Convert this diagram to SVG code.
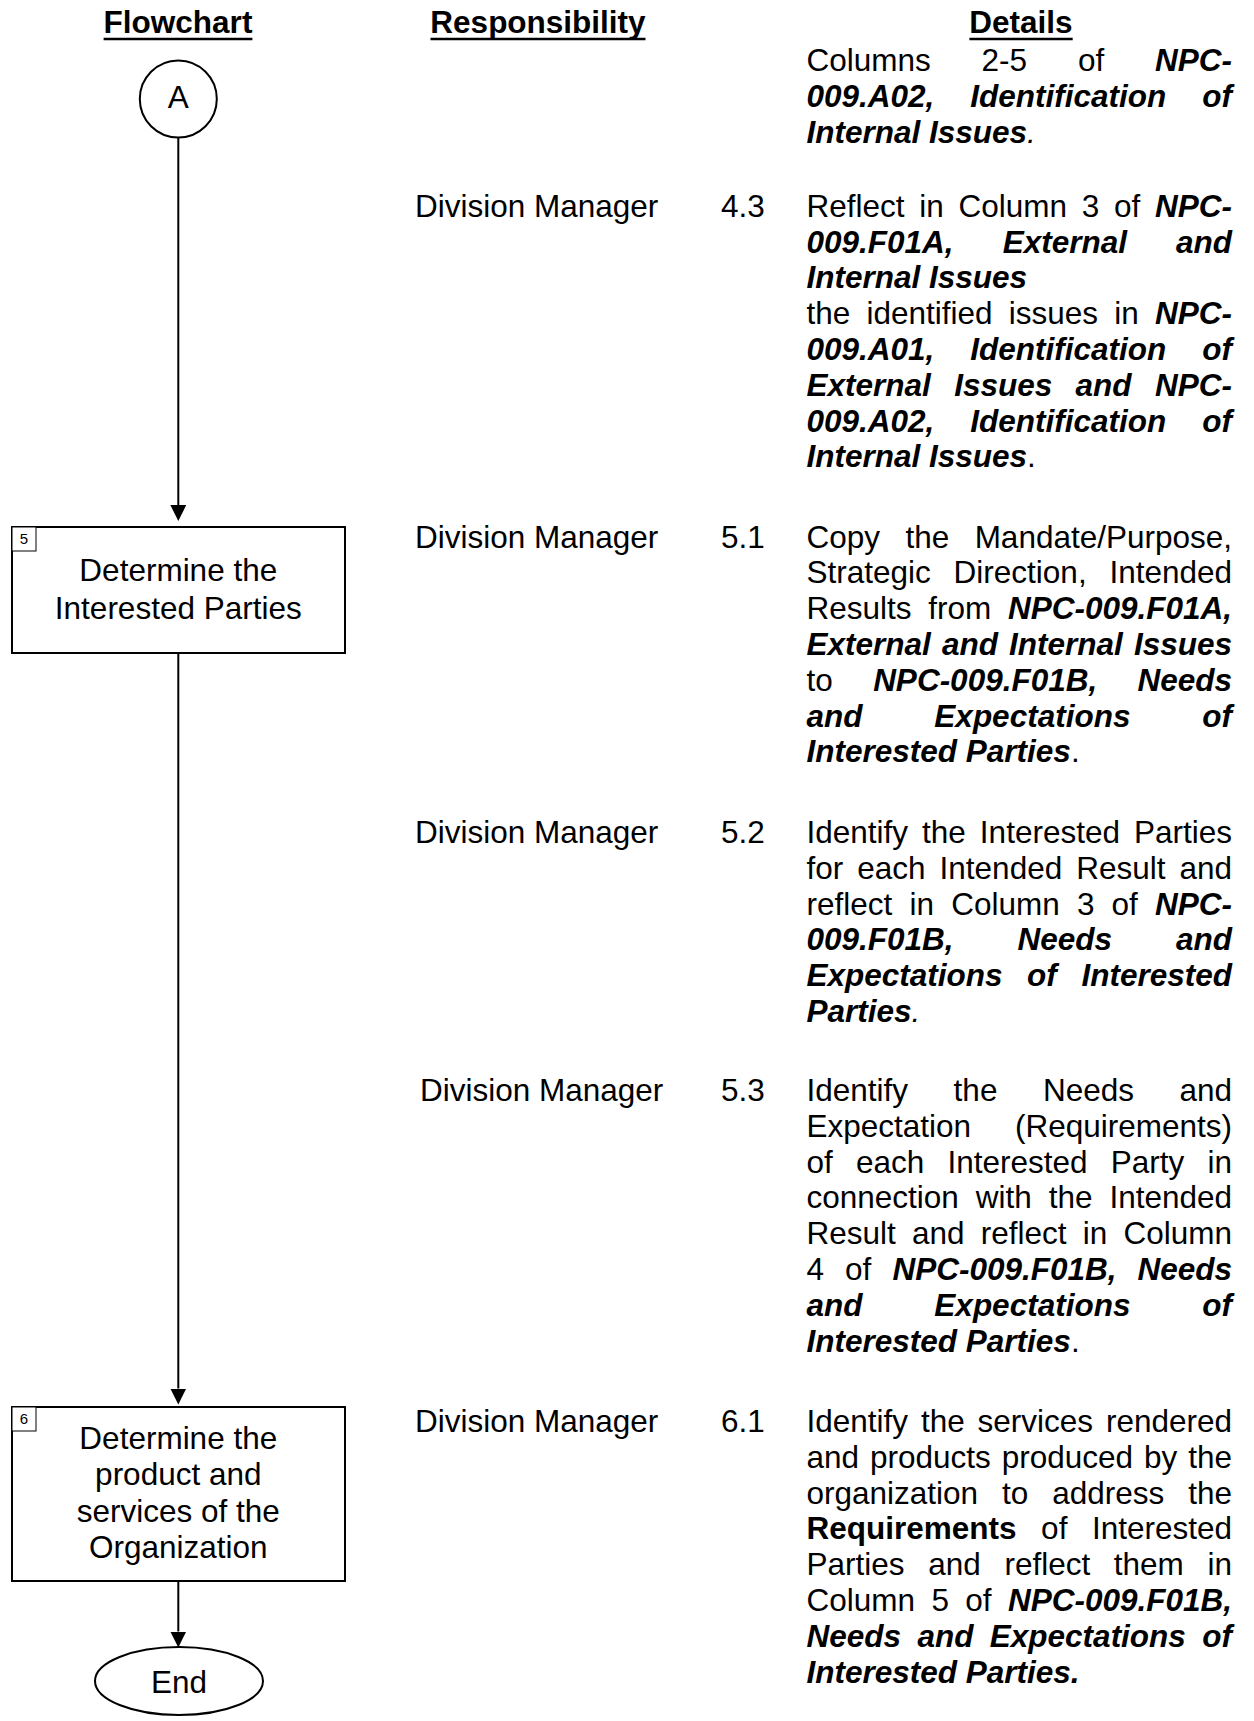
<svg xmlns="http://www.w3.org/2000/svg" width="1254" height="1721" viewBox="0 0 1254 1721">
<style>
.t{font-family:"Liberation Sans",Arial,sans-serif;font-size:31.5px;fill:#000}
.b{font-weight:bold}
.bi{font-weight:bold;font-style:italic}
.i{font-style:italic}
.c{text-anchor:middle}
.node{fill:#fff;stroke:#000;stroke-width:2}
.tag{fill:#fff;stroke:#000;stroke-width:1}
.tagt{font-family:"Liberation Sans",Arial,sans-serif;font-size:15px;fill:#000;text-anchor:middle}
.conn{stroke:#000;stroke-width:2;fill:none}
.ul{stroke:#000;stroke-width:2.5}
</style>
<defs>
<marker id="arr" viewBox="0 0 16 16" refX="0" refY="8" markerWidth="16" markerHeight="16" markerUnits="userSpaceOnUse" orient="auto">
<path d="M0,0 L16,8 L0,16 Z" fill="#000"/>
</marker>
</defs>
<rect width="1254" height="1721" fill="#fff"/>

<g id="headers">
<text class="t b c" x="178" y="33">Flowchart</text>
<line class="ul" x1="103.6" y1="39" x2="252.4" y2="39"/>
<text class="t b c" x="538" y="33">Responsibility</text>
<line class="ul" x1="430.5" y1="39" x2="645.5" y2="39"/>
<text class="t b c" x="1021" y="33">Details</text>
<line class="ul" x1="969.4" y1="39" x2="1072.7" y2="39"/>
</g>

<g id="connectors">
<line class="conn" x1="178.3" y1="137.5" x2="178.3" y2="505" marker-end="url(#arr)"/>
<line class="conn" x1="178.3" y1="653" x2="178.3" y2="1388.5" marker-end="url(#arr)"/>
<line class="conn" x1="178.3" y1="1581" x2="178.3" y2="1631.5" marker-end="url(#arr)"/>
</g>

<g id="node-A">
<circle class="node" cx="178.3" cy="99" r="38.5"/>
<text class="t c" x="178.3" y="108.3">A</text>
</g>

<g id="node-5">
<rect class="node" x="12" y="527" width="333" height="126"/>
<rect class="tag" x="12" y="527" width="24" height="24"/>
<text class="tagt" x="24" y="544">5</text>
<text class="t c" x="178.3" y="581">Determine the</text>
<text class="t c" x="178.3" y="618.5">Interested Parties</text>
</g>

<g id="node-6">
<rect class="node" x="12" y="1407" width="333" height="174"/>
<rect class="tag" x="12" y="1407" width="24" height="24"/>
<text class="tagt" x="24" y="1424">6</text>
<text class="t c" x="178.3" y="1448.5">Determine the</text>
<text class="t c" x="178.3" y="1485">product and</text>
<text class="t c" x="178.3" y="1521.5">services of the</text>
<text class="t c" x="178.3" y="1558">Organization</text>
</g>

<g id="node-end">
<ellipse class="node" cx="179" cy="1681" rx="84" ry="34"/>
<text class="t c" x="179" y="1692.5">End</text>
</g>

<g id="row-4-2-cont">
<text class="t" x="806.5" y="71" style="word-spacing:42.06px">Columns 2-5 of <tspan class="bi">NPC-</tspan></text>
<text class="t bi" x="806.5" y="106.8" style="word-spacing:27.2px">009.A02, Identification of</text>
<text class="t" x="806.5" y="142.6"><tspan class="bi">Internal Issues</tspan><tspan class="i">.</tspan></text>
</g>

<g id="row-4-3">
<text class="t" x="415" y="216.7">Division Manager</text>
<text class="t" x="721" y="216.7">4.3</text>
<text class="t" x="806.5" y="216.7" style="word-spacing:5.98px">Reflect in Column 3 of <tspan class="bi">NPC-</tspan></text>
<text class="t bi" x="806.5" y="252.5" style="word-spacing:40.3px">009.F01A, External and</text>
<text class="t bi" x="806.5" y="288.3">Internal Issues</text>
<text class="t" x="806.5" y="324.1" style="word-spacing:7.47px">the identified issues in <tspan class="bi">NPC-</tspan></text>
<text class="t bi" x="806.5" y="359.9" style="word-spacing:27.2px">009.A01, Identification of</text>
<text class="t bi" x="806.5" y="395.7" style="word-spacing:14.6px">External Issues and NPC-</text>
<text class="t bi" x="806.5" y="431.5" style="word-spacing:27.2px">009.A02, Identification of</text>
<text class="t" x="806.5" y="467.3"><tspan class="bi">Internal Issues</tspan>.</text>
</g>

<g id="row-5-1">
<text class="t" x="415" y="547.5">Division Manager</text>
<text class="t" x="721" y="547.5">5.1</text>
<text class="t" x="806.5" y="547.5" style="word-spacing:16.65px">Copy the Mandate/Purpose,</text>
<text class="t" x="806.5" y="583.3" style="word-spacing:14.03px">Strategic Direction, Intended</text>
<text class="t" x="806.5" y="619.1" style="word-spacing:7.95px">Results from <tspan class="bi">NPC-009.F01A,</tspan></text>
<text class="t bi" x="806.5" y="654.9" style="word-spacing:2.36px">External and Internal Issues</text>
<text class="t" x="806.5" y="690.7" style="word-spacing:31.6px">to <tspan class="bi">NPC-009.F01B, Needs</tspan></text>
<text class="t bi" x="806.5" y="726.5" style="word-spacing:63.1px">and Expectations of</text>
<text class="t" x="806.5" y="762.3"><tspan class="bi">Interested Parties</tspan>.</text>
</g>

<g id="row-5-2">
<text class="t" x="415" y="843">Division Manager</text>
<text class="t" x="721" y="843">5.2</text>
<text class="t" x="806.5" y="843" style="word-spacing:5.26px">Identify the Interested Parties</text>
<text class="t" x="806.5" y="878.8" style="word-spacing:5.25px">for each Intended Result and</text>
<text class="t" x="806.5" y="914.6" style="word-spacing:8.43px">reflect in Column 3 of <tspan class="bi">NPC-</tspan></text>
<text class="t bi" x="806.5" y="950.4" style="word-spacing:55.2px">009.F01B, Needs and</text>
<text class="t bi" x="806.5" y="986.2" style="word-spacing:15.8px">Expectations of Interested</text>
<text class="t" x="806.5" y="1022"><tspan class="bi">Parties</tspan><tspan class="i">.</tspan></text>
</g>

<g id="row-5-3">
<text class="t" x="420" y="1101">Division Manager</text>
<text class="t" x="721" y="1101">5.3</text>
<text class="t" x="806.5" y="1101" style="word-spacing:36.8px">Identify the Needs and</text>
<text class="t" x="806.5" y="1136.8" style="word-spacing:35.1px">Expectation (Requirements)</text>
<text class="t" x="806.5" y="1172.6" style="word-spacing:14.45px">of each Interested Party in</text>
<text class="t" x="806.5" y="1208.4" style="word-spacing:8.17px">connection with the Intended</text>
<text class="t" x="806.5" y="1244.2" style="word-spacing:7.47px">Result and reflect in Column</text>
<text class="t" x="806.5" y="1280" style="word-spacing:12.3px">4 of <tspan class="bi">NPC-009.F01B, Needs</tspan></text>
<text class="t bi" x="806.5" y="1315.8" style="word-spacing:63.1px">and Expectations of</text>
<text class="t" x="806.5" y="1351.6"><tspan class="bi">Interested Parties</tspan>.</text>
</g>

<g id="row-6-1">
<text class="t" x="415" y="1432">Division Manager</text>
<text class="t" x="721" y="1432">6.1</text>
<text class="t" x="806.5" y="1432" style="word-spacing:4.1px">Identify the services rendered</text>
<text class="t" x="806.5" y="1467.8" style="word-spacing:2.19px">and products produced by the</text>
<text class="t" x="806.5" y="1503.6" style="word-spacing:15.2px">organization to address the</text>
<text class="t" x="806.5" y="1539.4" style="word-spacing:15.8px"><tspan class="b">Requirements</tspan> of Interested</text>
<text class="t" x="806.5" y="1575.2" style="word-spacing:14.9px">Parties and reflect them in</text>
<text class="t" x="806.5" y="1611" style="word-spacing:7.62px">Column 5 of <tspan class="bi">NPC-009.F01B,</tspan></text>
<text class="t bi" x="806.5" y="1646.8" style="word-spacing:7.63px">Needs and Expectations of</text>
<text class="t bi" x="806.5" y="1682.6">Interested Parties.</text>
</g>
</svg>
